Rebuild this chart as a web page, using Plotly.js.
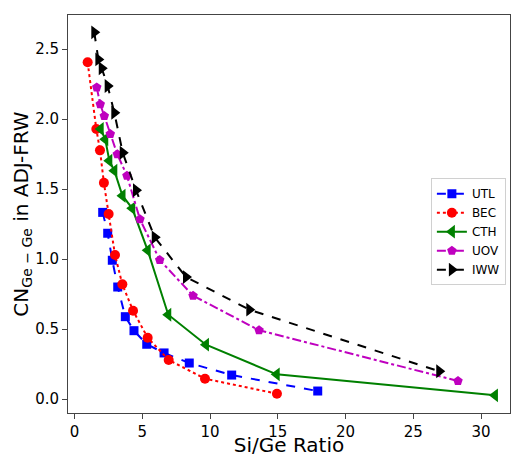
<!DOCTYPE html>
<html><head><meta charset="utf-8">
<script src="https://cdn.plot.ly/plotly-3.0.1.min.js"></script>
<style>body{margin:0;padding:0;}#chart{width:512px;height:457px;}</style>
</head><body><div id="chart"></div>
<script>
const seriesNames = ["UTL","BEC","CTH","UOV","IWW"];
const utlX = [2.08,2.45,2.79,3.19,3.75,4.39,5.33,6.61,8.47,11.6,17.95];
const utlY = [1.333,1.184,0.991,0.80,0.588,0.488,0.391,0.329,0.257,0.171,0.057];
const becX = [0.97,1.61,1.88,2.17,2.52,2.99,3.53,4.32,5.40,6.95,9.63,14.94];
const becY = [2.405,1.929,1.776,1.544,1.321,1.029,0.819,0.631,0.438,0.279,0.145,0.038];
const cthX = [1.93,2.27,2.57,2.94,3.54,4.26,5.40,6.92,9.70,14.92,31.03];
const cthY = [1.929,1.855,1.702,1.631,1.452,1.362,1.062,0.602,0.388,0.176,0.026];
const uovX = [1.64,1.90,2.20,2.64,3.16,3.87,4.83,6.29,8.75,13.62,28.30];
const uovY = [2.226,2.105,2.021,1.893,1.748,1.595,1.284,0.993,0.738,0.491,0.129];
const iwwX = [1.46,1.76,2.01,2.45,2.94,3.56,4.54,5.92,8.23,12.90,26.92];
const iwwY = [2.619,2.426,2.362,2.236,2.045,1.759,1.491,1.155,0.871,0.638,0.198];
const xTicks = [0,5,10,15,20,25,30];
const yTicks = [0,0.5,1,1.5,2,2.5];

const styles = [
  {color:'#0000ff', dash:'dash', symbol:'square', size:9},
  {color:'#ff0000', dash:'dot', symbol:'circle', size:10},
  {color:'#008000', dash:'solid', symbol:'triangle-left', size:12},
  {color:'#bf00bf', dash:'dashdot', symbol:'pentagon', size:10},
  {color:'#000000', dash:'dash', symbol:'triangle-right', size:12}
];
const xs = [utlX,becX,cthX,uovX,iwwX];
const ys = [utlY,becY,cthY,uovY,iwwY];
const traces = seriesNames.map((n,i)=>({
  x: xs[i], y: ys[i], name: n, type:'scatter', mode:'lines+markers',
  line:{color:styles[i].color, dash:styles[i].dash, width:2},
  marker:{color:styles[i].color, symbol:styles[i].symbol, size:styles[i].size}
}));
const layout = {
  width:512, height:457,
  margin:{l:68, r:2, t:15, b:44},
  paper_bgcolor:'#fff', plot_bgcolor:'#fff',
  font: {family:'DejaVu Sans', size:15, color:'#000'},
  showlegend:true,
  legend:{x:0.821, y:0.59, xanchor:'left', yanchor:'top', bgcolor:'#fff',
          bordercolor:'#d0d0d0', borderwidth:1, font:{family:'DejaVu Sans', size:12, color:'#000'},
          tracegroupgap:0},
  xaxis:{range:[-0.48,32.14], tickvals:xTicks, ticktext:xTicks.map(String),
    showgrid:false, zeroline:false, showline:true, mirror:true, linecolor:'#444', linewidth:1,
    ticks:'outside', ticklen:5, tickcolor:'#444', tickfont:{size:15},
    title:{text:'Si/Ge Ratio', font:{size:20}, standoff:0}},
  yaxis:{range:[-0.1,2.743], tickvals:yTicks, ticktext:yTicks.map(v=>v.toFixed(1)),
    showgrid:false, zeroline:false, showline:true, mirror:true, linecolor:'#444', linewidth:1,
    ticks:'outside', ticklen:5, tickcolor:'#444', tickfont:{size:15},
    title:{text:'CN<sub>Ge − Ge</sub> in ADJ-FRW', font:{size:20}, standoff:0}}
};
Plotly.newPlot('chart', traces, layout, {displayModeBar:false, staticPlot:true});
</script></body></html>
